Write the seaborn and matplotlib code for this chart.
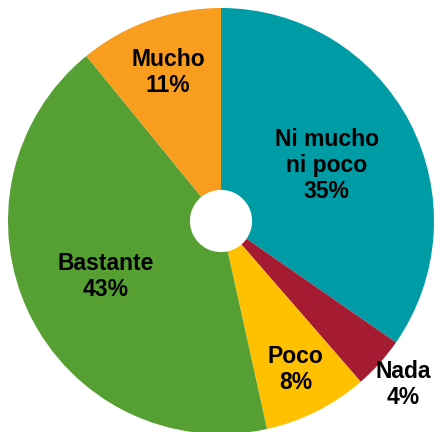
import numpy as np
import matplotlib
matplotlib.use("Agg")
import matplotlib.pyplot as plt
import seaborn as sns

# Data
labels = ["Ni mucho\nni poco", "Nada", "Poco", "Bastante", "Mucho"]
values = [35, 4, 8, 43, 11]
pct_text = ["35%", "4%", "8%", "43%", "11%"]
colors = ["#009CA6", "#A51C32", "#FFC000", "#56A033", "#F99D1E"]

# label distance from centre (fraction of radius)
label_r = [0.56, 1.15, 0.78, 0.60, 0.74]

sns.set_theme(style="white")
plt.rcParams["font.family"] = ["Liberation Sans", "DejaVu Sans"]

fig = plt.figure(figsize=(4.4, 4.32), dpi=100)
R = 213
cx, cy = 221, 432 - 221
ax = fig.add_axes([(cx - R) / 440, (cy - R) / 432, 2 * R / 440, 2 * R / 432])

wedges, _ = ax.pie(values, colors=sns.color_palette(colors), startangle=90,
                   counterclock=False, radius=1,
                   wedgeprops=dict(width=1 - 0.146, linewidth=0))

for w, lab, pct, r in zip(wedges, labels, pct_text, label_r):
    ang = np.deg2rad((w.theta1 + w.theta2) / 2)
    ax.text(r * np.cos(ang), r * np.sin(ang), f"{lab}\n{pct}",
            ha="center", va="center", fontsize=16.5, fontweight="bold",
            color="black", linespacing=1.15)

ax.set_xlim(-1, 1)
ax.set_ylim(-1, 1)
ax.set_aspect("equal")
ax.axis("off")

fig.savefig("out.png", dpi=100, facecolor="white")
